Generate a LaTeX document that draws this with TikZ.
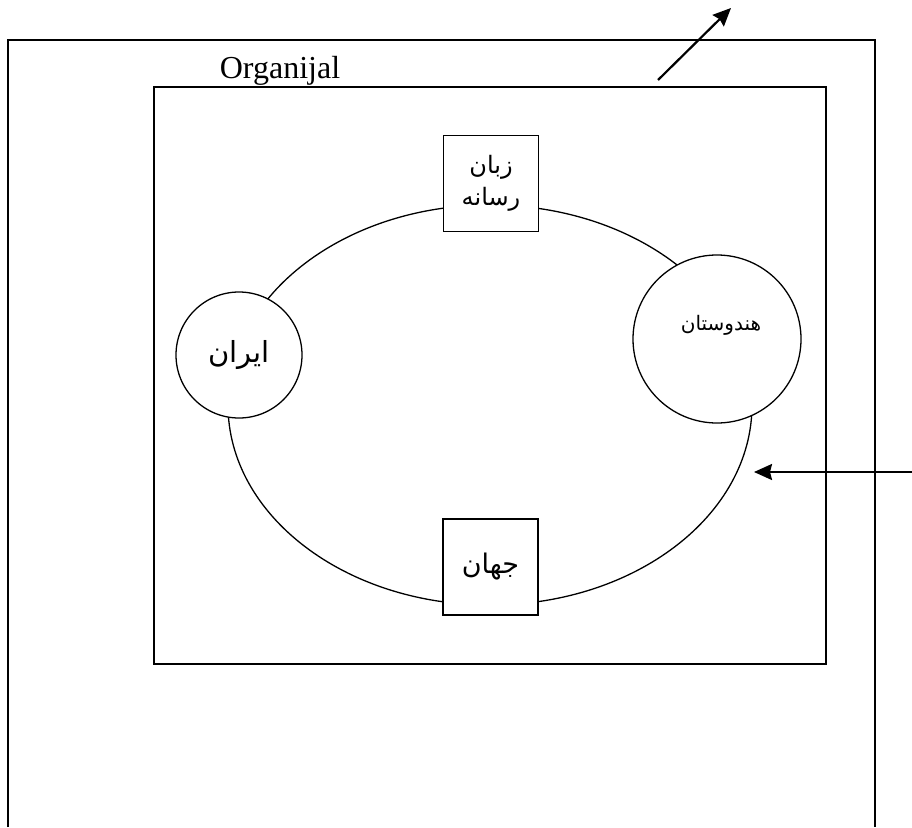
\documentclass[tikz,border=0pt]{standalone}
\usepackage{fontspec}
\setmainfont{Liberation Serif}
\newfontfamily\arabicfont[Script=Arabic]{DejaVu Sans}
\TeXXeTstate=1
\usetikzlibrary{shapes.geometric, arrows.meta}
\tikzstyle{frame} = [draw=black, line width=1.5pt]
\tikzstyle{country} = [circle, draw=black, fill=white, line width=1.3pt, inner sep=0pt, font=\arabicfont]
\tikzstyle{topic} = [rectangle, draw=black, fill=white, line width=1.3pt, minimum width=95pt, minimum height=96pt, inner sep=0pt, font=\arabicfont, align=center]
\tikzstyle{arrow} = [line width=2.2pt, -{Stealth[length=18pt,width=16pt,inset=2pt]}]

\begin{document}
\begin{tikzpicture}[x=1pt, y=-1pt]
    \useasboundingbox (0,0) rectangle (912,827);
    \draw [frame] (8,827) -- (8,40) -- (875,40) -- (875,827);
    \node (inner) [frame, rectangle, minimum width=672pt, minimum height=577pt, inner sep=0pt] at (490,375.5) {};
    \node (title) [anchor=base, font=\fontsize{32}{38}\selectfont] at (280,78) {Organijal};

    \node (ring) [ellipse, draw=black, line width=1.3pt, minimum width=524pt, minimum height=400pt] at (490,405) {};
    \node (iran) [country, minimum size=126pt, font=\arabicfont\fontsize{29}{34}\selectfont] at (239,355) {\beginR ایران\endR};
    \node (india) [country, minimum size=168pt] at (717,339) {};
    \node (indialabel) [font=\arabicfont\fontsize{20}{24}\selectfont] at (721,325) {\beginR هندوستان\endR};
    \node (media) [topic, font=\arabicfont\fontsize{24}{32}\selectfont] at (491,183.5) {\beginR زبان\endR\\\beginR رسانه\endR};
    \node (world) [topic, font=\arabicfont\fontsize{27}{32}\selectfont] at (490.5,567) {\beginR جهان\endR};

    \coordinate (outstart) at (658,80);
    \coordinate (outend) at (731,8);
    \coordinate (instart) at (912,472);
    \coordinate (inend) at (754,472);
    \draw [arrow] (outstart) -- (outend);
    \draw [arrow] (instart) -- (inend);
\end{tikzpicture}
\end{document}
